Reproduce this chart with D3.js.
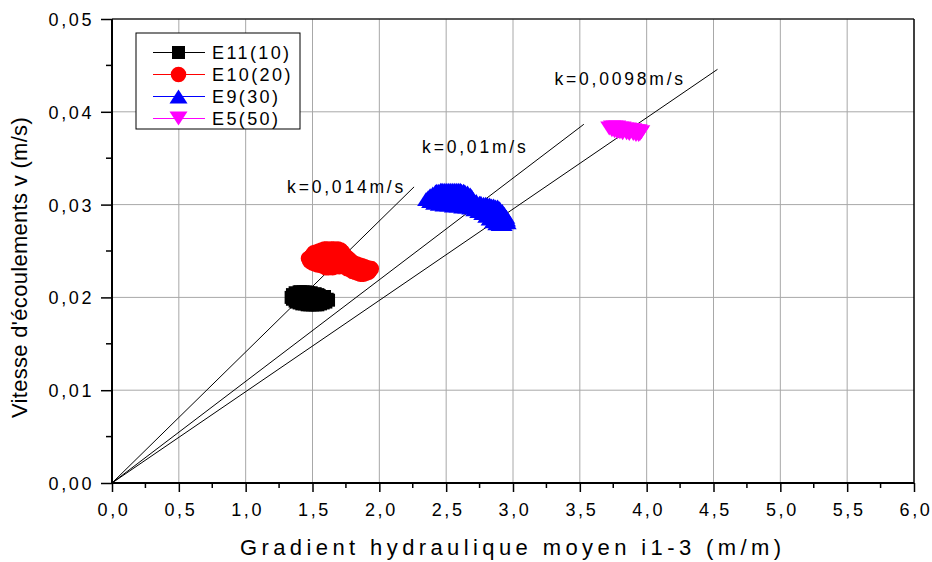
<!DOCTYPE html>
<html><head><meta charset="utf-8">
<script src="https://cdn.jsdelivr.net/npm/d3@7"></script>
<style>
body{margin:0;background:#fff;}
text{font-family:"Liberation Sans",Arial,sans-serif;fill:#000;}
</style></head>
<body><svg id="chart" width="932" height="562"></svg>
<script>
// ---- data ----
const seriesNames = ["E11(10)", "E10(20)", "E9(30)", "E5(50)"];
const seriesColors = ["#000000", "#ff0000", "#0000ff", "#ff00ff"];
const seriesShapes = ["square", "circle", "triangle", "triangleDown"];

const e11 = [[1.36,0.0200],[1.38,0.0204],[1.40,0.0206],[1.43,0.0206],[1.46,0.0205],[1.49,0.0205],[1.52,0.0204],[1.55,0.0202],[1.58,0.0200],[1.61,0.0198],[1.60,0.0195],[1.56,0.0193],[1.52,0.0192],[1.48,0.0192],[1.44,0.0193],[1.40,0.0194],[1.37,0.0196],[1.42,0.0199],[1.47,0.0199],[1.52,0.0198],[1.45,0.0202],[1.50,0.0201],[1.35,0.0198],
  [1.34,0.0200],[1.35,0.0203],[1.37,0.0205],[1.54,0.0203],[1.59,0.0201],[1.62,0.0197],[1.58,0.0194],[1.54,0.0192],[1.50,0.0192],[1.46,0.0192],[1.42,0.0193],[1.38,0.0195],[1.41,0.0206],[1.45,0.0206],[1.47,0.0205]];
const e10 = [[1.47,0.0242],[1.48,0.0239],[1.50,0.0246],[1.53,0.0249],[1.57,0.0251],[1.61,0.0252],[1.66,0.0252],[1.71,0.0251],[1.73,0.0247],[1.76,0.0243],[1.79,0.0239],[1.83,0.0236],[1.87,0.0234],[1.91,0.0232],[1.94,0.0231],[1.92,0.0227],[1.88,0.0225],[1.84,0.0226],[1.80,0.0228],[1.76,0.0231],[1.72,0.0234],[1.67,0.0233],[1.62,0.0232],[1.57,0.0234],[1.52,0.0236],[1.55,0.0243],[1.62,0.0245],[1.68,0.0243],[1.74,0.0238],[1.60,0.0240],
  [1.49,0.0244],[1.51,0.0248],[1.55,0.0250],[1.59,0.0252],[1.64,0.0252],[1.69,0.0252],[1.725,0.0249],[1.745,0.0245],[1.775,0.0241],[1.81,0.0237],[1.85,0.0235],[1.89,0.0233],[1.93,0.0229],[1.90,0.0226],[1.86,0.0225],[1.82,0.0227],[1.78,0.0230],[1.70,0.0233],[1.65,0.0232],[1.60,0.0232],[1.54,0.0235],[1.50,0.0237],[1.58,0.0238],[1.66,0.0238],[1.70,0.0240]];
const e9 = [[2.35,0.0306],[2.38,0.0310],[2.42,0.0314],[2.47,0.0316],[2.53,0.0316],[2.59,0.0316],[2.64,0.0314],[2.68,0.0311],[2.70,0.0306],[2.75,0.0302],[2.81,0.0300],[2.87,0.0298],[2.92,0.0293],[2.95,0.0287],[2.96,0.0281],[2.90,0.0279],[2.85,0.0282],[2.80,0.0288],[2.74,0.0293],[2.68,0.0297],[2.62,0.0298],[2.55,0.0299],[2.48,0.0300],[2.41,0.0302],[2.50,0.0307],[2.60,0.0306],[2.66,0.0303],[2.88,0.0290],[2.45,0.0311],[2.56,0.0311],
  [2.365,0.0308],[2.40,0.0312],[2.445,0.0315],[2.50,0.0316],[2.56,0.0316],[2.615,0.0315],[2.66,0.0313],[2.69,0.0309],[2.725,0.0304],[2.78,0.0301],[2.84,0.0299],[2.90,0.0296],[2.935,0.0290],[2.955,0.0284],[2.93,0.0279],[2.875,0.0280],[2.825,0.0285],[2.77,0.0291],[2.71,0.0295],[2.65,0.0298],[2.585,0.0299],[2.515,0.0300],[2.445,0.0301],[2.38,0.0304],[2.78,0.0296],[2.84,0.0293],[2.90,0.0286],
  [2.43,0.0315],[2.46,0.0316],[2.485,0.0316],[2.515,0.0316],[2.545,0.0316],[2.575,0.0316],[2.605,0.0316],[2.63,0.0315],[2.76,0.0302],[2.795,0.0301],[2.825,0.0300],[2.855,0.0299],[2.885,0.0298]];
const e5 = [[3.72,0.0382],[3.76,0.0383],[3.80,0.0382],[3.84,0.0381],[3.88,0.0380],[3.92,0.0379],[3.96,0.0378],[3.94,0.0375],[3.90,0.0376],[3.85,0.0377],[3.80,0.0378],[3.76,0.0379],
  [3.74,0.0383],[3.78,0.0383],[3.82,0.0382],[3.86,0.0381],[3.90,0.0380],[3.94,0.0379],[3.95,0.0376],[3.92,0.0375],[3.87,0.0376],[3.82,0.0377],[3.78,0.0378],[3.74,0.0380]];
const seriesData = [e11, e10, e9, e5];

// permeability lines v = slope * i, drawn from 0 to endI
const lineLabels = ["k=0,014m/s", "k=0,01m/s", "k=0,0098m/s"];
const lineSlopes = [0.01412, 0.01095, 0.00984];
const lineEnds = [2.26, 3.53, 4.53];
const lineLabelAnchors = [[1.31, 0.03125], [2.32, 0.03556], [3.31, 0.04289]];

const xTicks = [0,0.5,1,1.5,2,2.5,3,3.5,4,4.5,5,5.5,6];
const yTicks = [0,0.01,0.02,0.03,0.04,0.05];
const xTitle = "Gradient hydraulique moyen i1-3 (m/m)";
const yTitle = "Vitesse d'écoulements v (m/s)";

// ---- layout ----
const W = 932, H = 562;
const m = {left:112, top:19, right:18, bottom:79};
const svg = d3.select("#chart");
const x = d3.scaleLinear().domain([0,6]).range([m.left, W-m.right]);
const y = d3.scaleLinear().domain([0,0.05]).range([H-m.bottom, m.top]);
const fmtX = d => d3.format(".1f")(d).replace(".", ",");
const fmtY = d => d3.format(".2f")(d).replace(".", ",");

// grid
svg.append("g").selectAll("line").data(xTicks.slice(1,-1)).join("line")
  .attr("x1", d=>x(d)).attr("x2", d=>x(d)).attr("y1", y(0)).attr("y2", y(0.05))
  .attr("stroke", "#a8a8a8").attr("stroke-width", 1);
svg.append("g").selectAll("line").data(yTicks.slice(1,-1)).join("line")
  .attr("y1", d=>y(d)).attr("y2", d=>y(d)).attr("x1", x(0)).attr("x2", x(6))
  .attr("stroke", "#a8a8a8").attr("stroke-width", 1);

// frame
svg.append("line").attr("x1", x(0)).attr("x2", x(6)).attr("y1", y(0.05)).attr("y2", y(0.05)).attr("stroke","#222").attr("stroke-width",1.5);
svg.append("line").attr("x1", x(6)).attr("x2", x(6)).attr("y1", y(0)).attr("y2", y(0.05)).attr("stroke","#000").attr("stroke-width",1.5);

// axes
const xMinor = d3.range(0.25, 6, 0.5);
const yMinor = d3.range(0.005, 0.05, 0.01);
const xAxis = svg.append("g").attr("transform", `translate(0,${y(0)})`)
  .call(d3.axisBottom(x).tickValues(xTicks).tickFormat(fmtX).tickSize(9));
xAxis.selectAll(".tick text").attr("y", 33).attr("dy", 0).attr("dx", "1.5px");
xAxis.append("g").selectAll("line").data(xMinor).join("line")
  .attr("x1", d=>x(d)).attr("x2", d=>x(d)).attr("y1", 0).attr("y2", 5).attr("stroke","#000").attr("stroke-width",1.5);
const yAxis = svg.append("g").attr("transform", `translate(${x(0)},0)`)
  .call(d3.axisLeft(y).tickValues(yTicks).tickFormat(fmtY).tickSize(11).tickPadding(7));
yAxis.selectAll(".tick text").attr("dy", "0.36em");
yAxis.append("g").selectAll("line").data(yMinor).join("line")
  .attr("y1", d=>y(d)).attr("y2", d=>y(d)).attr("x1", 0).attr("x2", -6).attr("stroke","#000").attr("stroke-width",1.5);
[xAxis, yAxis].forEach(a => {
  a.select(".domain").attr("stroke","#000").attr("stroke-width",2);
  a.selectAll(".tick line").attr("stroke","#000").attr("stroke-width",1.5);
  a.selectAll(".tick text").attr("font-size", 18).attr("letter-spacing", "2.6px")
    .attr("font-family", "Liberation Sans, Arial, sans-serif").attr("fill","#000");
});
xAxis.select(".domain").attr("d", `M${x(0)},0H${x(6)}`);
yAxis.select(".domain").attr("d", `M0,${y(0)}V${y(0.05)}`);

// k lines
svg.append("g").selectAll("line").data(lineSlopes).join("line")
  .attr("x1", x(0)).attr("y1", y(0))
  .attr("x2", (d,i)=>x(lineEnds[i])).attr("y2", (d,i)=>y(d*lineEnds[i]))
  .attr("stroke","#000").attr("stroke-width",1);
svg.append("g").selectAll("text").data(lineLabels).join("text")
  .attr("x", (d,i)=>x(lineLabelAnchors[i][0])).attr("y", (d,i)=>y(lineLabelAnchors[i][1]))
  .attr("font-size", 17.5).attr("letter-spacing","2.8px").text(d=>d);

// symbols
const triUp = {draw(ctx, size){ const w=18, h=14; ctx.moveTo(0,-h/2); ctx.lineTo(w/2,h/2); ctx.lineTo(-w/2,h/2); ctx.closePath(); }};
const symType = {square:d3.symbolSquare, circle:d3.symbolCircle, triangle:triUp, triangleDown:triUp};
const symSize = {square:169, circle:190, triangle:1, triangleDown:1};
function sym(shape){ return d3.symbol().type(symType[shape]).size(symSize[shape])(); }
seriesData.forEach((pts, si) => {
  const shape = seriesShapes[si];
  svg.append("g").selectAll("path").data(pts).join("path")
    .attr("d", sym(shape))
    .attr("transform", d => `translate(${x(d[0])},${y(d[1])})` + (shape==="triangleDown" ? " rotate(180)" : ""))
    .attr("fill", seriesColors[si]);
});

// legend
const lg = svg.append("g");
lg.append("rect").attr("x",136).attr("y",33).attr("width",164).attr("height",96)
  .attr("fill","#fff").attr("stroke","#000").attr("stroke-width",1);
seriesNames.forEach((nm, i) => {
  const cy = 52.5 + i*22;
  lg.append("line").attr("x1",153).attr("x2",205).attr("y1",cy).attr("y2",cy)
    .attr("stroke", seriesColors[i]).attr("stroke-width", 1);
  const shape = seriesShapes[i];
  lg.append("path").attr("d", sym(shape))
    .attr("transform", `translate(178.5,${cy})` + (shape==="triangleDown" ? " rotate(180)" : ""))
    .attr("fill", seriesColors[i]);
  lg.append("text").attr("x",212).attr("y",cy+6.5).attr("font-size",18).attr("letter-spacing","2.4px").text(nm);
});

// axis titles
svg.append("text").attr("x", 240).attr("y", 555)
  .attr("font-size", 22).attr("letter-spacing","4.4px").text(xTitle);
svg.append("text").attr("transform", `translate(27,418) rotate(-90)`)
  .attr("font-size", 22).attr("letter-spacing","0.3px").text(yTitle);
</script></body></html>
